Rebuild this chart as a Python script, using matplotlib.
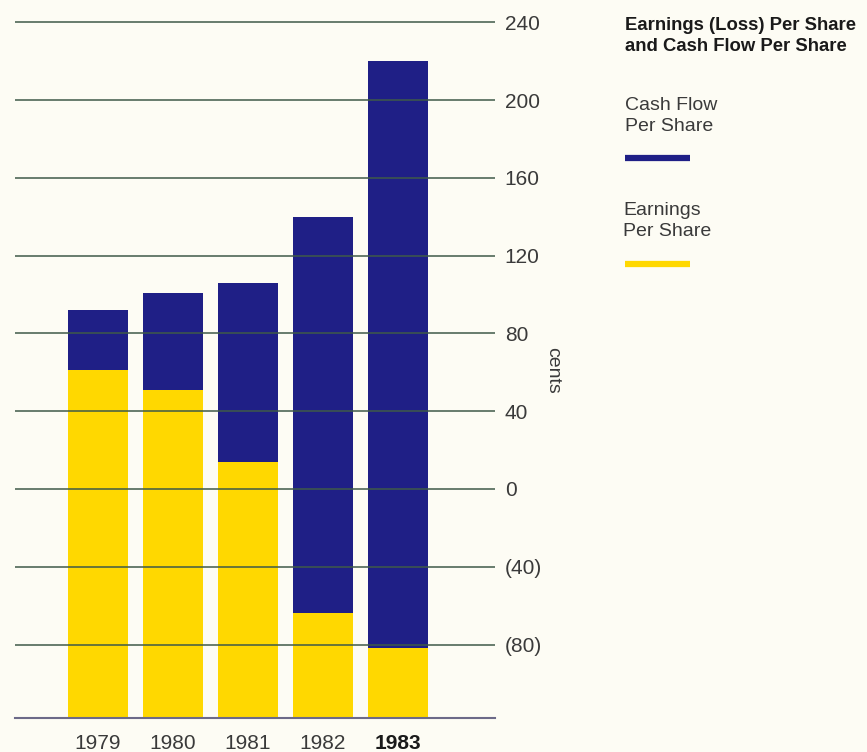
import matplotlib.pyplot as plt

years = ['1979', '1980', '1981', '1982', '1983']
earnings = [61, 51, 14, -64, -82]
cash_flow = [92, 101, 106, 140, 220]
ticks = [240, 200, 160, 120, 80, 40, 0, -40, -80]
tick_labels = ['240', '200', '160', '120', '80', '40', '0', '(40)', '(80)']

BLUE = '#1f1f86'
YELLOW = '#ffd800'
BG = '#fdfcf4'
GRID = '#3f5a48'
TEXT = '#3a3a3a'

plt.rcParams['font.family'] = ['Liberation Sans', 'DejaVu Sans']

fig = plt.figure(figsize=(8.67, 7.52), dpi=100, facecolor=BG)
W, H = 867, 752
floor, top = -118, 245
ax = fig.add_axes([15 / W, 1 - 718.4 / H, (495 - 15) / W, (718.4 - 12.7) / H])
ax.set_facecolor(BG)
ax.set_xlim(-1.107, 5.293)
ax.set_ylim(floor, top)

x = range(len(years))
ax.bar(x, [e - floor for e in earnings], width=0.8, bottom=floor, color=YELLOW, zorder=1)
ax.bar(x, [c - e for c, e in zip(cash_flow, earnings)], width=0.8, bottom=earnings,
       color=BLUE, zorder=1)

for t in ticks:
    ax.axhline(t, color=GRID, lw=1.1, zorder=2)
ax.axhline(floor, color='#6c6a88', lw=1.5, zorder=2, clip_on=False)

for s in ax.spines.values():
    s.set_visible(False)
ax.yaxis.tick_right()
ax.set_yticks(ticks)
ax.set_yticklabels(tick_labels, fontsize=15, color=TEXT)
ax.tick_params(axis='y', length=0, pad=7)
ax.set_xticks(list(x))
ax.set_xticklabels(years, fontsize=15, color=TEXT)
ax.get_xticklabels()[-1].set_fontweight('bold')
ax.get_xticklabels()[-1].set_color('#1a1a1a')
ax.tick_params(axis='x', length=0, pad=11)

fig.text(553 / W, 1 - 370 / H, 'cents', rotation=270, ha='center', va='center',
         fontsize=14, color=TEXT)

# legend block
fig.text(625 / W, 1 - 36 / H, 'Earnings (Loss) Per Share\nand Cash Flow Per Share',
         ha='left', va='center', fontsize=13.3, fontweight='bold', color='#1a1a1a',
         linespacing=1.35)
fig.text(625 / W, 1 - 116 / H, 'Cash Flow\nPer Share', ha='left', va='center',
         fontsize=14, color=TEXT, linespacing=1.3)
fig.add_artist(plt.Line2D([625 / W, 690 / W], [1 - 158 / H] * 2, color=BLUE, lw=4.5,
                          solid_capstyle='butt'))
fig.text(623 / W, 1 - 221 / H, 'Earnings\nPer Share', ha='left', va='center',
         fontsize=14, color=TEXT, linespacing=1.3)
fig.add_artist(plt.Line2D([625 / W, 690 / W], [1 - 264 / H] * 2, color=YELLOW, lw=4.5,
                          solid_capstyle='butt'))

fig.savefig('out.png', dpi=100, facecolor=BG)
